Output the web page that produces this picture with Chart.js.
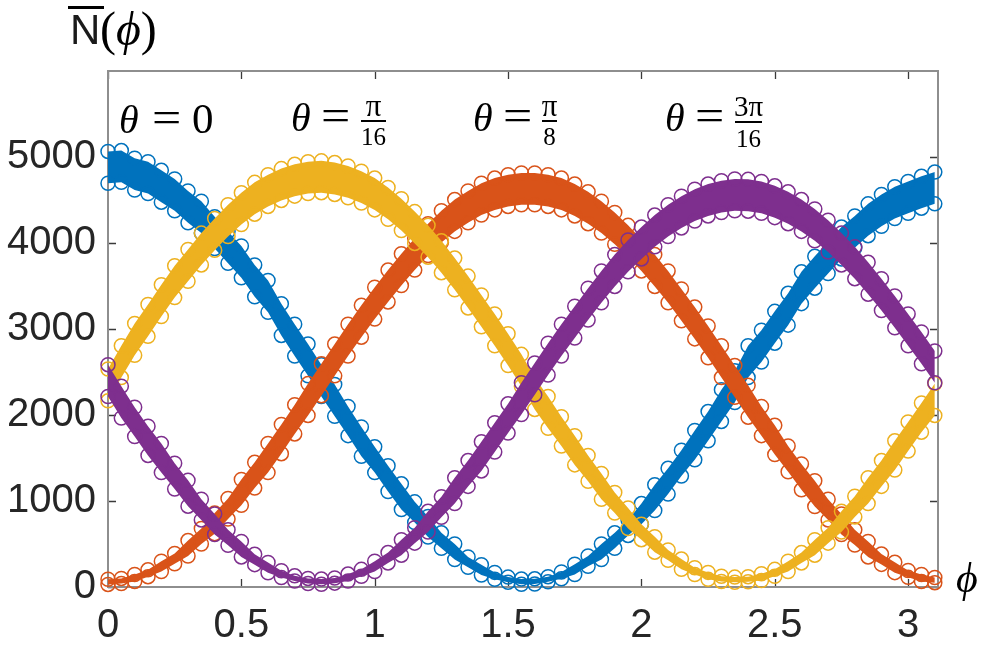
<!DOCTYPE html>
<html><head><meta charset="utf-8">
<script src="https://cdn.jsdelivr.net/npm/chart.js@4.4.1/dist/chart.umd.min.js"></script>
<style>
html,body{margin:0;padding:0;background:#fff;}
#wrap{position:relative;width:992px;height:653px;overflow:hidden;}
canvas{position:absolute;left:0;top:0;}
.t{position:absolute;white-space:nowrap;line-height:1;color:#000;}
.serif{font-family:"Liberation Serif","Times New Roman",serif;}
.sans{font-family:"Liberation Sans",Arial,sans-serif;color:#1a1a1a;}
.eq{transform:scaleX(1.18);transform-origin:left center;}
.rect{position:absolute;background:#000;}
</style></head>
<body><div id="wrap"><canvas id="c" width="992" height="653"></canvas></div>
<script>
const phi = [0,0.05,0.1,0.15,0.2,0.25,0.3,0.35,0.4,0.45,0.5,0.55,0.6,0.65,0.7,0.75,0.8,0.85,0.9,0.95,1,1.05,1.1,1.15,1.2,1.25,1.3,1.35,1.4,1.45,1.5,1.55,1.6,1.65,1.7,1.75,1.8,1.85,1.9,1.95,2,2.05,2.1,2.15,2.2,2.25,2.3,2.35,2.4,2.45,2.5,2.55,2.6,2.65,2.7,2.75,2.8,2.85,2.9,2.95,3,3.05,3.1];

// theta = 0 (blue): upper / lower edge of the scatter band
const blueHi = [5065,5075,4985,4945,4845,4745,4605,4485,4305,4135,3965,3745,3565,3295,3055,2825,2585,2355,2100,1860,1630,1410,1200,990,820,630,500,350,260,170,115,92,95,120,175,265,360,500,630,780,970,1190,1380,1590,1820,2040,2295,2515,2805,2985,3205,3415,3665,3845,4015,4185,4315,4455,4565,4655,4715,4775,4825];
const blueLo = [4695,4705,4615,4575,4475,4375,4235,4115,3935,3765,3595,3375,3195,2925,2685,2455,2215,1985,1760,1520,1330,1110,900,750,580,450,320,230,140,90,55,32,35,60,95,145,240,320,450,600,730,890,1080,1290,1480,1700,1925,2145,2435,2615,2835,3045,3295,3475,3645,3815,3945,4085,4195,4285,4345,4405,4455];
// theta = pi/8 (orange)
const orangeHi = [90,100,145,200,300,390,540,680,860,1030,1250,1450,1670,1890,2120,2365,2595,2825,3055,3275,3485,3685,3875,4055,4225,4375,4505,4605,4695,4755,4795,4815,4815,4795,4755,4685,4595,4485,4355,4205,4045,3865,3675,3465,3255,3035,2805,2575,2345,2100,1880,1640,1430,1235,1020,850,667,530,383,287,192,145,110];
const orangeLo = [30,40,65,120,180,270,360,500,620,790,950,1150,1330,1550,1780,1995,2225,2455,2685,2905,3115,3315,3505,3685,3855,4005,4135,4235,4325,4385,4425,4445,4445,4425,4385,4315,4225,4115,3985,3835,3675,3495,3305,3095,2885,2665,2435,2205,1975,1760,1540,1340,1130,935,780,610,487,350,263,167,112,65,50];
// theta = pi/16 (yellow)
const yellowHi = [2535,2805,3065,3285,3515,3735,3925,4115,4285,4445,4585,4705,4795,4865,4915,4945,4955,4935,4895,4835,4755,4645,4515,4365,4205,4025,3825,3615,3395,3175,2945,2705,2435,2215,1980,1760,1530,1320,1100,920,730,585,430,325,225,170,125,115,120,155,205,300,400,550,690,880,1055,1270,1470,1700,1920,2140,2365];
const yellowLo = [2165,2435,2695,2915,3145,3365,3555,3745,3915,4075,4215,4335,4425,4495,4545,4575,4585,4565,4525,4465,4385,4275,4145,3995,3835,3655,3455,3245,3025,2805,2575,2335,2065,1845,1640,1420,1230,1020,860,680,550,405,310,205,145,90,65,55,60,75,125,180,280,370,510,640,815,970,1170,1360,1580,1800,1995];
// theta = 3pi/16 (purple)
const purpleHi = [2585,2335,2090,1870,1670,1440,1240,1020,850,665,530,380,285,190,130,100,92,105,150,205,300,400,550,690,880,1050,1270,1470,1690,1910,2130,2375,2605,2835,3055,3265,3475,3675,3865,4035,4185,4325,4445,4545,4625,4685,4725,4745,4740,4715,4665,4595,4505,4395,4265,4115,3955,3775,3585,3385,3175,2965,2745];
const purpleLo = [2215,1965,1750,1530,1330,1140,940,780,610,485,350,260,165,110,70,40,32,45,70,125,180,280,370,510,640,810,970,1170,1350,1570,1790,2005,2235,2465,2685,2895,3105,3305,3495,3665,3815,3955,4075,4175,4255,4315,4355,4375,4370,4345,4295,4225,4135,4025,3895,3745,3585,3405,3215,3015,2805,2595,2375];

const xTicks = [0,0.5,1,1.5,2,2.5,3];
const xTickLabels = ['0','0.5','1','1.5','2','2.5','3'];
const yTicks = [0,1000,2000,3000,4000,5000];
const yTickLabels = ['0','1000','2000','3000','4000','5000'];

const COL = {blue:'#0072BD', orange:'#D95319', yellow:'#EDB120', purple:'#7E2F8E'};

function pts(arr){ return phi.map((x,i)=>({x:x, y:arr[i]})); }
function band(hi, lo, col){
  const common = {borderWidth:0, borderColor:'rgba(0,0,0,0)', pointRadius:7, pointStyle:'circle',
    pointBorderColor:col, pointBackgroundColor:'rgba(255,255,255,0)', pointBorderWidth:1.5,
    tension:0, clip:false};
  return [
    Object.assign({data:pts(hi), fill:false}, common),
    Object.assign({data:pts(lo), fill:'-1', backgroundColor:col}, common)
  ];
}

const frame = {
  id:'frame',
  beforeDatasetsDraw(chart){
    const {ctx, chartArea:a, scales} = chart;
    ctx.save();
    ctx.strokeStyle = '#3a3a3a'; ctx.lineWidth = 1.3;
    scales.x.ticks.forEach(t=>{
      const p = Math.round(scales.x.getPixelForValue(t.value))+0.5;
      ctx.beginPath(); ctx.moveTo(p,a.bottom); ctx.lineTo(p,a.bottom-8);
      ctx.moveTo(p,a.top); ctx.lineTo(p,a.top+8); ctx.stroke();
    });
    scales.y.ticks.forEach(t=>{
      const p = Math.round(scales.y.getPixelForValue(t.value))+0.5;
      ctx.beginPath(); ctx.moveTo(a.left,p); ctx.lineTo(a.left+8,p);
      ctx.moveTo(a.right,p); ctx.lineTo(a.right-8,p); ctx.stroke();
    });
    ctx.strokeStyle = '#8e8e8e'; ctx.lineWidth = 2;
    ctx.strokeRect(a.left, a.top, a.right-a.left, a.bottom-a.top);
    ctx.restore();
  }
};

new Chart(document.getElementById('c'), {
  type:'line',
  data:{datasets:[
    ...band(purpleHi, purpleLo, COL.purple),
    ...band(yellowHi, yellowLo, COL.yellow),
    ...band(orangeHi, orangeLo, COL.orange),
    ...band(blueHi, blueLo, COL.blue)
  ]},
  options:{
    responsive:false, animation:false, devicePixelRatio:1, events:[],
    layout:{padding:{left:0, top:71, right:54, bottom:0}},
    plugins:{legend:{display:false}, tooltip:{enabled:false}},
    scales:{
      x:{type:'linear', min:0, max:3.112,
        grid:{display:false, drawTicks:false}, border:{display:false},
        afterBuildTicks:s=>{ s.ticks = xTicks.map(v=>({value:v})); },
        afterFit:s=>{ s.height = 66; },
        ticks:{padding:15, color:'#262626', maxRotation:0, autoSkip:false,
          font:{family:'"Liberation Sans", Arial, sans-serif', size:40},
          callback:(v,i)=>xTickLabels[i]}
      },
      y:{type:'linear', min:0, max:6000,
        grid:{display:false, drawTicks:false}, border:{display:false},
        afterBuildTicks:s=>{ s.ticks = yTicks.map(v=>({value:v})); },
        afterFit:s=>{ s.width = 108; },
        ticks:{padding:12, color:'#262626', autoSkip:false,
          font:{family:'"Liberation Sans", Arial, sans-serif', size:40},
          callback:(v,i)=>yTickLabels[i]}
      }
    }
  },
  plugins:[frame]
});

// text overlays
const wrap = document.getElementById('wrap');
function txt(html, x, base, size, cls, center){
  const d = document.createElement('div');
  d.className = 't ' + cls;
  d.style.fontSize = size + 'px';
  d.innerHTML = html;
  const k = cls.indexOf('sans')>=0 ? 0.8465 : 0.8375;
  d.style.top = (base - k*size) + 'px';
  if (center){ d.style.left = (x-60)+'px'; d.style.width='120px'; d.style.textAlign='center'; }
  else d.style.left = x + 'px';
  wrap.appendChild(d);
}
function rect(x,y,w,h){
  const d = document.createElement('div'); d.className='rect';
  Object.assign(d.style,{left:x+'px',top:y+'px',width:w+'px',height:h+'px'});
  wrap.appendChild(d);
}
// y-axis title N̄(φ)
txt('N', 70, 45, 42, 'sans');
rect(68, 6, 36, 3);
txt('(<i>ϕ</i>)', 100, 45, 48, 'serif');
// x-axis title φ
txt('<i>ϕ</i>', 956, 592, 42, 'serif');
// annotations
txt('<i>θ</i>', 119, 133, 40, 'serif');
txt('=', 152, 133, 44, 'serif eq');
txt('0', 192, 133, 43, 'serif');

txt('<i>θ</i>', 291, 131, 40, 'serif');
txt('=', 321, 131, 44, 'serif eq');
txt('π', 373.5, 116, 31, 'serif', true);
rect(361, 120, 25, 1.6);
txt('16', 373.5, 145, 25, 'serif', true);

txt('<i>θ</i>', 473, 131, 40, 'serif');
txt('=', 503, 131, 44, 'serif eq');
txt('π', 549.5, 116, 31, 'serif', true);
rect(542, 120, 15, 1.6);
txt('8', 549.5, 145, 25, 'serif', true);

txt('<i>θ</i>', 665, 131, 40, 'serif');
txt('=', 695, 131, 44, 'serif eq');
txt('3π', 748.5, 116.5, 29, 'serif', true);
rect(735, 121, 27, 1.6);
txt('16', 748.5, 147, 25, 'serif', true);
</script></body></html>
